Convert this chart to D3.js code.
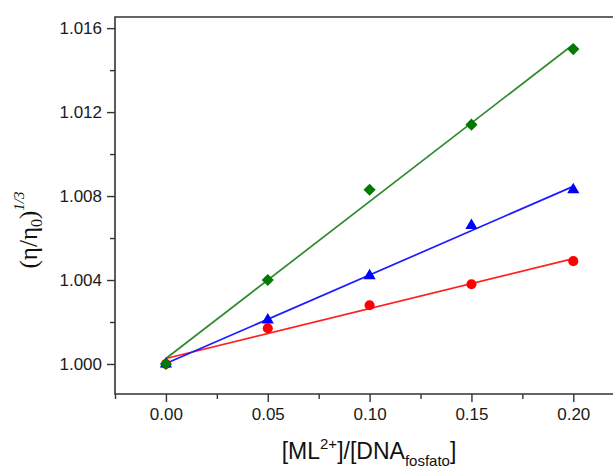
<!DOCTYPE html>
<html>
<head>
<meta charset="utf-8">
<script src="https://cdn.jsdelivr.net/npm/d3@7"></script>
<style>
  body { margin: 0; background: #fff; }
  svg { display: block; }
  .tick-label { font-family: "Liberation Sans", Arial, sans-serif; font-size: 17px; fill: #1a1a1a; }
  .axis-title { font-family: "Liberation Sans", Arial, sans-serif; fill: #111; }
</style>
</head>
<body>
<svg id="chart" width="613" height="469"></svg>
<script>
/******************* Data ***********************************/
var ratios = [0.00, 0.05, 0.10, 0.15, 0.20];
var seriesRed = [1.0000, 1.0017, 1.0028, 1.0038, 1.0049];
var seriesBlue = [1.0000, 1.0021, 1.0042, 1.0066, 1.0083];
var seriesGreen = [1.0000, 1.0040, 1.0083, 1.0114, 1.0150];
var xTicks = [0.00, 0.05, 0.10, 0.15, 0.20];
var xMinorTicks = [-0.025, 0.025, 0.075, 0.125, 0.175];
var yTicks = [1.000, 1.004, 1.008, 1.012, 1.016];
var yMinorTicks = [1.002, 1.006, 1.010, 1.014];

var series = [
  { name: 'red', values: seriesRed, line: '#ff2020', fill: '#ff0000', shape: 'circle' },
  { name: 'blue', values: seriesBlue, line: '#1c1cff', fill: '#0000ff', shape: 'triangle' },
  { name: 'green', values: seriesGreen, line: '#2f8a2f', fill: '#007a00', shape: 'diamond' }
];

/******************* Layout *********************************/
var svg = d3.select('#chart');
var plotLeft = 115, plotRight = 613, plotTop = 17, plotBottom = 394;

var x = d3.scaleLinear().domain([-0.025, 0.2195]).range([plotLeft, plotRight]);
var y = d3.scaleLinear().domain([0.99857, 1.01653]).range([plotBottom, plotTop]);

// least squares fit, like the origin linear fit
function fit(xs, ys) {
  var mx = d3.mean(xs), my = d3.mean(ys);
  var num = 0, den = 0;
  for (var i = 0; i < xs.length; i++) {
    num += (xs[i] - mx) * (ys[i] - my);
    den += (xs[i] - mx) * (xs[i] - mx);
  }
  var slope = num / den;
  return { slope: slope, intercept: my - slope * mx };
}

/******************* Axes ***********************************/
var xAxis = d3.axisBottom(x).tickValues(xTicks).tickFormat(d3.format('.2f')).tickSize(8).tickPadding(6);
var xMinor = d3.axisBottom(x).tickValues(xMinorTicks).tickFormat('').tickSize(5);
var yAxis = d3.axisLeft(y).tickValues(yTicks).tickFormat(d3.format('.3f')).tickSize(8).tickPadding(5);
var yMinor = d3.axisLeft(y).tickValues(yMinorTicks).tickFormat('').tickSize(5);

function styleAxis(g) {
  g.select('.domain').remove();
  g.selectAll('line').attr('stroke', '#333').attr('stroke-width', 1.4);
  g.selectAll('text').attr('class', 'tick-label');
}

svg.append('g').attr('transform', 'translate(0,' + plotBottom + ')').call(xAxis).call(styleAxis);
svg.append('g').attr('transform', 'translate(0,' + plotBottom + ')').call(xMinor).call(styleAxis);
svg.append('g').attr('transform', 'translate(' + plotLeft + ',0)').call(yAxis).call(styleAxis);
svg.append('g').attr('transform', 'translate(' + plotLeft + ',0)').call(yMinor).call(styleAxis);

// frame: left, bottom and top lines only
svg.append('path')
  .attr('d', 'M' + plotRight + ',' + plotTop + 'H' + plotLeft + 'V' + plotBottom + 'H' + plotRight)
  .attr('fill', 'none')
  .attr('stroke', '#333')
  .attr('stroke-width', 1.6);

/******************* Series *********************************/
var symbols = {
  circle: d3.symbol().type(d3.symbolCircle).size(80),
  triangle: d3.symbol().type(d3.symbolTriangle).size(64),
  diamond: d3.symbol().type(d3.symbolSquare).size(74)
};

series.forEach(function(s) {
  var f = fit(ratios, s.values);
  var x0 = ratios[0], x1 = ratios[ratios.length - 1];
  svg.append('line')
    .attr('x1', x(x0)).attr('y1', y(f.intercept + f.slope * x0))
    .attr('x2', x(x1)).attr('y2', y(f.intercept + f.slope * x1))
    .attr('stroke', s.line)
    .attr('stroke-width', 1.7);
});

series.forEach(function(s) {
  svg.append('g').selectAll('path')
    .data(s.values)
    .enter().append('path')
    .attr('d', symbols[s.shape])
    .attr('transform', function(d, i) {
      var t = 'translate(' + x(ratios[i]) + ',' + y(d) + ')';
      return s.shape === 'diamond' ? t + ' rotate(45)' : t;
    })
    .attr('fill', s.fill);
});

/******************* Titles *********************************/
var xTitle = svg.append('text')
  .attr('class', 'axis-title')
  .attr('x', 369)
  .attr('y', 459)
  .attr('text-anchor', 'middle')
  .style('font-size', '23px');
xTitle.append('tspan').text('[ML');
xTitle.append('tspan').attr('dy', -10).style('font-size', '15px').text('2+');
xTitle.append('tspan').attr('dy', 10).text(']/[DNA');
xTitle.append('tspan').attr('dy', 7).style('font-size', '15px').text('fosfato');
xTitle.append('tspan').attr('dy', -7).text(']');

var yTitle = svg.append('text')
  .attr('class', 'axis-title')
  .attr('transform', 'translate(37,230) rotate(-90)')
  .attr('text-anchor', 'middle')
  .style('font-size', '25px')
  .style('font-family', '"Liberation Serif", "Times New Roman", serif');
yTitle.append('tspan').text('(η/η');
yTitle.append('tspan').attr('dy', 5).style('font-size', '16px').text('0');
yTitle.append('tspan').attr('dy', -5).text(')');
yTitle.append('tspan').attr('dy', -13).style('font-size', '15px').style('font-style', 'italic').text('1/3');
</script>
</body>
</html>
